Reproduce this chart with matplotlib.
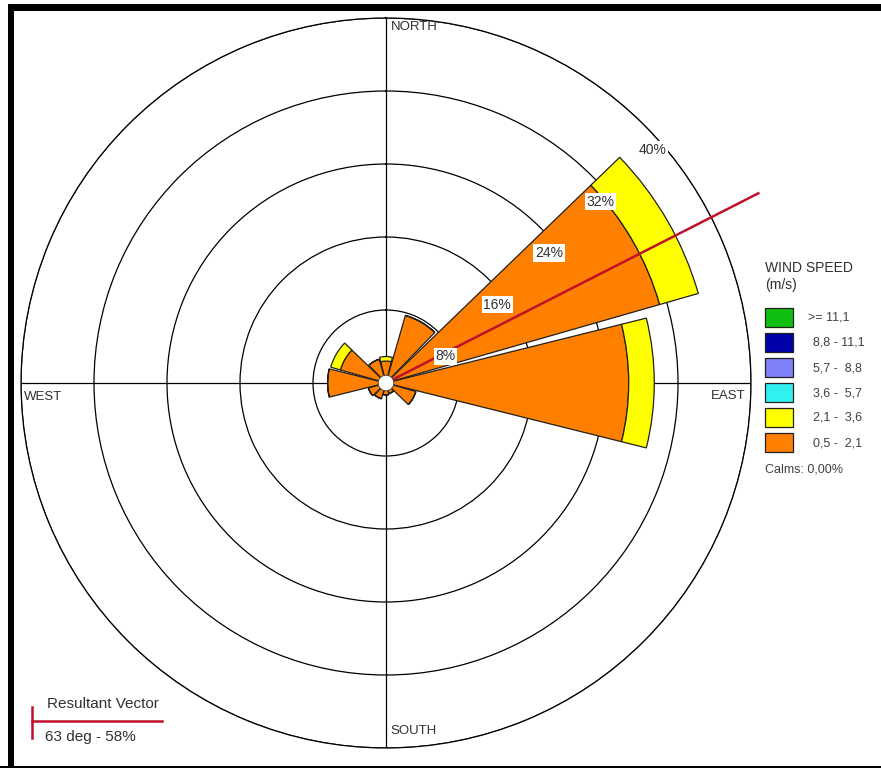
import numpy as np
import matplotlib.pyplot as plt
from matplotlib.patches import Rectangle

# wind directions (deg, from north) and frequency (%) per speed class
directions = [0, 30, 60, 90, 120, 150, 180, 210, 240, 270, 300, 330]
speed_05_21 = [2.4, 7.7, 31.2, 26.6, 3.4, 1.2, 1.3, 1.8, 2.0, 6.4, 5.2, 2.7]
speed_21_36 = [0.5, 0.0, 4.4, 2.8, 0.0, 0.0, 0.0, 0.0, 0.0, 0.0, 1.1, 0.0]
speed_36_57 = [0.0] * 12
speed_57_88 = [0.0] * 12
speed_88_111 = [0.0] * 12
speed_111 = [0.0] * 12

class_labels = ["0,5 -  2,1", "2,1 -  3,6", "3,6 -  5,7",
                "5,7 -  8,8", "8,8 - 11,1", ">= 11,1"]
class_colors = ["#ff8000", "#ffff00", "#33f0f0", "#8080f8", "#0000a8", "#10c010"]

ring_values = [8, 16, 24, 32, 40]
ring_labels = ["8%", "16%", "24%", "32%", "40%"]
compass = [(0, "NORTH"), (90, "EAST"), (180, "SOUTH"), (270, "WEST")]

resultant_dir = 63
resultant_len = 45.8
calm_radius = 0.85

W, H = 881, 768
fig = plt.figure(figsize=(W / 100, H / 100), dpi=100)


def fx(x):
    return x / W


def fy(y):
    return 1 - y / H


ax = fig.add_axes([fx(21), 20 / H, 730 / W, 730 / H], projection='polar')
ax.set_theta_zero_location('N')
ax.set_theta_direction(-1)
ax.set_ylim(0, 40)
ax.set_rgrids(ring_values, labels=[''] * len(ring_values))
ax.set_thetagrids([c[0] for c in compass], labels=[''] * 4)
ax.tick_params(length=0)
ax.grid(True, color='black', lw=0.9)
ax.spines['polar'].set_color('black')
ax.spines['polar'].set_linewidth(0.9)
ax.set_axisbelow(True)

theta = np.radians(directions)
width = np.radians(28)
series = [speed_05_21, speed_21_36, speed_36_57, speed_57_88, speed_88_111, speed_111]
bottom = np.zeros(len(directions))
for vals, col in zip(series, class_colors):
    vals = np.array(vals)
    if vals.sum() == 0:
        continue
    ax.bar(theta, vals, width=width, bottom=bottom, color=col,
           edgecolor='#202020', linewidth=0.9, zorder=2)
    bottom = bottom + vals

# resultant vector
ax.plot([0, np.radians(resultant_dir)], [0, resultant_len], color='#c0102a',
        lw=1.8, zorder=3, clip_on=False)

# calm circle
circ = np.linspace(0, 2 * np.pi, 100)
ax.fill(circ, np.full_like(circ, calm_radius), color='white',
        edgecolor='#404040', linewidth=0.6, zorder=4)

# ring labels
for r, lab in zip(ring_values, ring_labels):
    ax.annotate(lab, xy=(np.radians(45), r), xytext=(8, -25),
                textcoords='offset pixels', ha='center', va='center',
                fontsize=10, color='#303030', family='Liberation Sans', zorder=5,
                bbox=dict(boxstyle='square,pad=0.12', fc='white', ec='none'))

# compass labels
offsets = {"NORTH": (5, -9, 'left'), "EAST": (-6, -13, 'right'),
           "SOUTH": (4, 17, 'left'), "WEST": (3, -14, 'left')}
for ang, name in compass:
    dx, dy, ha = offsets[name]
    ax.annotate(name, xy=(np.radians(ang), 40), xytext=(dx, dy),
                textcoords='offset pixels', ha=ha, va='center',
                fontsize=9.5, color='#303030', family='Liberation Sans')

# legend
fig.text(fx(765), fy(268), "WIND SPEED", fontsize=10, color='#303030',
         va='center', ha='left', family='Liberation Sans')
fig.text(fx(765), fy(285), "(m/s)", fontsize=10, color='#303030',
         va='center', ha='left', family='Liberation Sans')
for i, (lab, col) in enumerate(zip(class_labels[::-1], class_colors[::-1])):
    top = 308 + 25 * i
    fig.add_artist(Rectangle((fx(765), fy(top + 19)), 28 / W, 19 / H,
                             transform=fig.transFigure, fc=col, ec='#202020', lw=0.9))
    x_txt = 808 if lab.startswith('>') else 813
    fig.text(fx(x_txt), fy(top + 10), lab, fontsize=9, color='#404040',
             va='center', ha='left', family='Liberation Sans')
fig.text(fx(765), fy(470), "Calms: 0,00%", fontsize=9, color='#404040',
         va='center', ha='left', family='Liberation Sans')

# resultant vector key
fig.add_artist(plt.Line2D([fx(32), fx(162)], [fy(721), fy(721)],
                          transform=fig.transFigure, color='#c0102a', lw=1.8))
fig.add_artist(plt.Line2D([fx(32), fx(32)], [fy(707), fy(738)],
                          transform=fig.transFigure, color='#c0102a', lw=1.8))
fig.text(fx(47), fy(704), "Resultant Vector", fontsize=11, color='#303030',
         va='center', ha='left', family='Liberation Sans')
fig.text(fx(45), fy(737), "%d deg - 58%%" % resultant_dir, fontsize=11,
         color='#303030', va='center', ha='left', family='Liberation Sans')

# frame
fig.add_artist(Rectangle((fx(8), fy(11)), 1, 7 / H, transform=fig.transFigure,
                         fc='black', ec='none'))
fig.add_artist(Rectangle((fx(8), 0), 6 / W, fy(4), transform=fig.transFigure,
                         fc='black', ec='none'))
fig.add_artist(Rectangle((0, 0), 1, 2.5 / H, transform=fig.transFigure,
                         fc='black', ec='none'))

fig.savefig('out.png', dpi=100)
